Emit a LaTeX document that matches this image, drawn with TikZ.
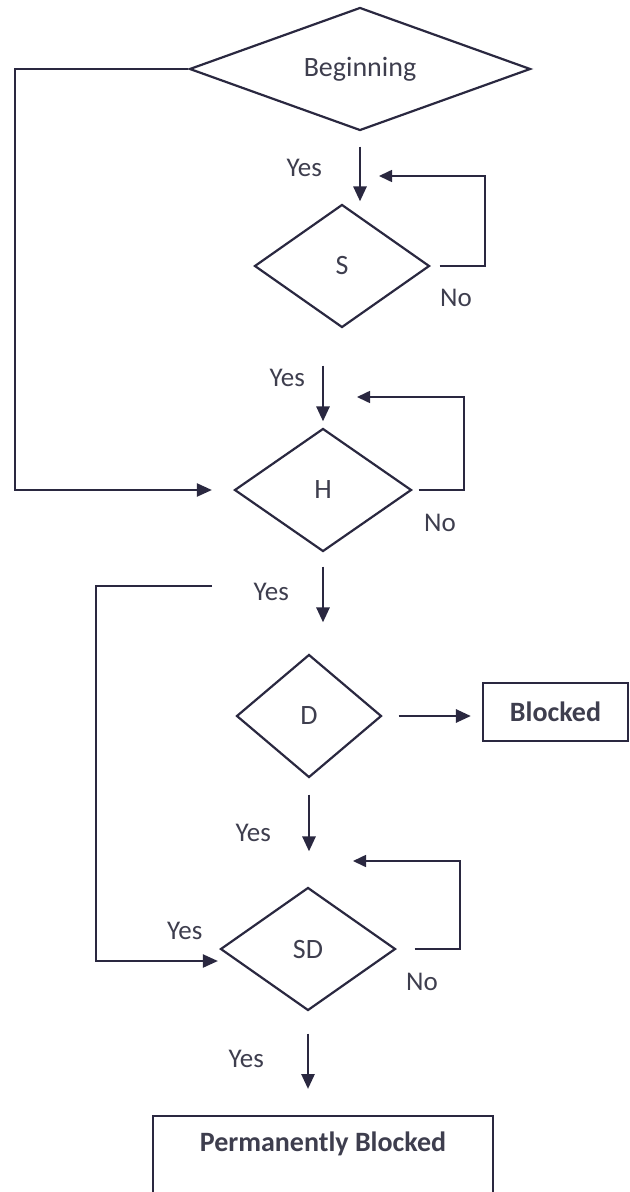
\documentclass[tikz,border=0pt]{standalone}
\usepackage{fontspec}
\setmainfont{Carlito}
\usetikzlibrary{shapes.geometric, arrows.meta, positioning}
\definecolor{ink}{RGB}{42,40,64}
\definecolor{txt}{RGB}{62,62,78}
\tikzstyle{decision} = [diamond, inner sep=0pt, draw=ink, line width=1.1pt, text=txt, font=\fontsize{14}{16}\selectfont]
\tikzstyle{outbox} = [rectangle, draw=ink, line width=1.1pt, text=txt, font=\bfseries\fontsize{14}{16}\selectfont]
\tikzstyle{lbl} = [text=txt, font=\fontsize{13.5}{16}\selectfont]
\tikzstyle{arrow} = [line width=1.4pt, draw=ink, -{Triangle[length=7.5pt,width=6.5pt]}]
\tikzstyle{feedback} = [line width=0.8pt, draw=ink, -{Triangle[length=6.5pt,width=6pt]}]

\begin{document}
\begin{tikzpicture}[x=0.5pt, y=-0.5pt]
    \clip (0,0) rectangle (630,1192);

    \node (begin) [decision, aspect=3, minimum width=170.5pt, minimum height=61.5pt] at (360,69) {Beginning};
    \node (s) [decision, minimum width=87.5pt, minimum height=61.5pt] at (342,266) {S};
    \node (h) [decision, minimum width=88.5pt, minimum height=61.5pt] at (323,490) {H};
    \node (d) [decision, minimum width=72.5pt, minimum height=61.5pt] at (309,716) {D};
    \node (sd) [decision, minimum width=87.5pt, minimum height=61.5pt] at (308,949) {SD};

    \node (blocked) [outbox, minimum width=72.5pt, minimum height=29pt] at (555.5,712) {Blocked};
    \node (perm) [outbox, anchor=north, minimum width=170pt, inner ysep=8pt, text depth=40pt] at (323,1115) {Permanently Blocked};

    % loop back points
    \coordinate (s-turn) at (485,176);
    \coordinate (s-in) at (379,176);
    \coordinate (h-turn) at (464,397);
    \coordinate (h-in) at (357,397);
    \coordinate (sd-turn) at (460,861);
    \coordinate (sd-in) at (353,861);
    \coordinate (branch) at (212,586);

    \draw [arrow, shorten <=7.5pt, shorten >=1pt] (begin.south) -- node[lbl, left=15pt] {Yes} (begin.south |- s.north);
    \draw [arrow, shorten <=18.5pt, shorten >=3pt] (h.north |- s.south) -- node[lbl, left=5pt] {Yes} (h.north);
    \draw [arrow, shorten <=7pt, shorten >=15.5pt] (h.south) -- node[lbl, left=13pt, yshift=5.5pt] {Yes} (h.south |- d.north);
    \draw [arrow, shorten <=8pt, shorten >=17.5pt] (d.south) -- node[lbl, left=15pt] {Yes} (d.south |- sd.north);
    \draw [arrow, shorten <=11pt, shorten >=13pt] (sd.south) -- node[lbl, left=18pt, yshift=2.4pt] {Yes} (sd.south |- perm.north);

    \draw [arrow, shorten <=8pt, shorten >=5.5pt] (d.east) -- (d.east -| blocked.west);

    \draw [feedback, shorten <=4.5pt] (s.east) node[lbl, below right=8pt and 1pt] {No} -| (s-turn) -- (s-in);
    \draw [feedback, shorten <=3pt] (h.east) node[lbl, below right=8.5pt and 2pt] {No} -| (h-turn) -- (h-in);
    \draw [feedback, shorten <=9pt] (sd.east) node[lbl, below right=8.5pt and 1pt] {No} -| (sd-turn) -- (sd-in);

    \draw [arrow, line width=1.1pt, shorten >=10.75pt] (begin.west) -- ++(-173.5,0) |- (h.west);
    \draw [arrow, line width=1.1pt, shorten >=0.75pt] (branch) -- ++(-116,0) |- node[lbl, pos=0.86, above=7pt] {Yes} ([yshift=-6pt]sd.west);
\end{tikzpicture}
\end{document}
